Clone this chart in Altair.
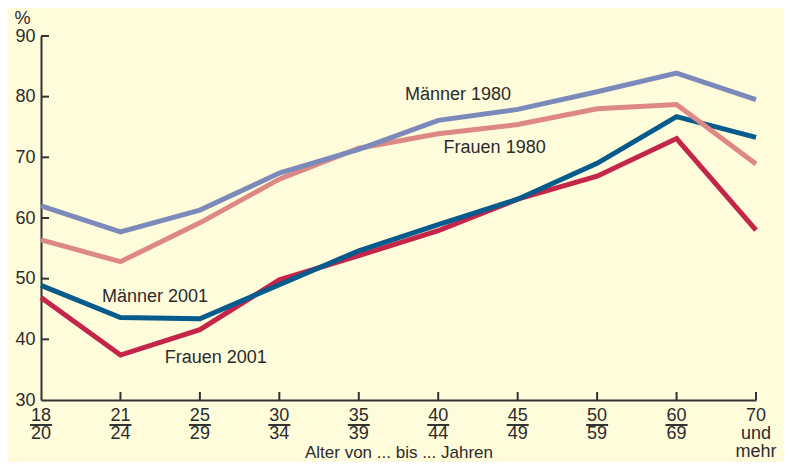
import altair as alt
import pandas as pd

# ---- data ----
age_top = ["18", "21", "25", "30", "35", "40", "45", "50", "60", "70"]
age_bottom = ["20", "24", "29", "34", "39", "44", "49", "59", "69", "und"]
age_extra = ["", "", "", "", "", "", "", "", "", "mehr"]

maenner_1980 = [62.0, 57.7, 61.3, 67.4, 71.3, 76.1, 77.9, 80.8, 83.9, 79.5]
frauen_1980 = [56.4, 52.8, 59.2, 66.4, 71.5, 73.9, 75.4, 78.0, 78.7, 68.9]
maenner_2001 = [48.9, 43.6, 43.4, 49.0, 54.6, 58.9, 63.1, 69.0, 76.7, 73.3]
frauen_2001 = [46.9, 37.4, 41.6, 49.8, 53.8, 57.9, 63.1, 66.9, 73.1, 58.0]

series_names = ["Frauen 2001", "Männer 2001", "Frauen 1980", "Männer 1980"]
series_values = [frauen_2001, maenner_2001, frauen_1980, maenner_1980]
series_colors = ["#c42548", "#045b8c", "#de8886", "#7b8abb"]

label_text = ["Männer 1980", "Frauen 1980", "Männer 2001", "Frauen 2001"]
label_x = [5.25, 5.71, 1.435, 2.20]
label_y = [80.2, 71.5, 47.0, 37.0]

y_labels = [30, 40, 50, 60, 70, 80, 90]
y_ticks = [40, 50, 60, 70, 80, 90]

TXT = "#2b2b2b"
FONT = "Liberation Sans"
FS = 18
W, H = 715, 364

rows = []
for name, vals in zip(series_names, series_values):
    for i, v in enumerate(vals):
        rows.append({"series": name, "idx": i, "value": v})
df = pd.DataFrame(rows)

cats = pd.DataFrame({
    "idx": list(range(len(age_top))),
    "top": age_top,
    "bottom": age_bottom,
    "extra": age_extra,
})
frac = cats[cats["extra"] == ""]

xscale = alt.Scale(domain=[0, 9], nice=False, zero=False)
yscale = alt.Scale(domain=[30, 90], nice=False, zero=False)

base_x = alt.X("idx:Q", scale=xscale,
               axis=alt.Axis(labels=False, ticks=False, grid=False, domain=True,
                             domainColor="#333333", domainWidth=2,
                             title="Alter von ... bis ... Jahren",
                             titleFont=FONT, titleFontSize=17, titleFontWeight="normal",
                             titleColor=TXT, titleY=57, titleBaseline="alphabetic"))
base_y = alt.Y("value:Q", scale=yscale,
               axis=alt.Axis(values=y_labels, ticks=False, grid=False,
                             domainColor="#333333", domainWidth=2,
                             labelFont=FONT, labelFontSize=FS, labelColor=TXT,
                             labelPadding=6,
                             title="%", titleAngle=0, titleFont=FONT, titleFontSize=FS,
                             titleFontWeight="normal", titleColor=TXT,
                             titleX=-19, titleY=-13, titleAlign="center",
                             titleBaseline="alphabetic"))

layers = []
layers.append(
    alt.Chart(df).mark_line(opacity=0).encode(x=base_x, y=base_y)
)

# inward ticks
ytick_df = pd.DataFrame({"value": y_ticks})
layers.append(
    alt.Chart(ytick_df).mark_rule(color="#333333", strokeWidth=2).encode(
        y=alt.Y("value:Q", scale=yscale), x=alt.value(0), x2=alt.value(8))
)
xtick_df = cats[cats["idx"] > 0][["idx"]]
layers.append(
    alt.Chart(xtick_df).mark_rule(color="#333333", strokeWidth=2).encode(
        x=alt.X("idx:Q", scale=xscale), y=alt.value(H), y2=alt.value(H - 8))
)

# lines
for name, col in zip(series_names, series_colors):
    layers.append(
        alt.Chart(df[df["series"] == name]).mark_line(
            color=col, strokeWidth=5, strokeJoin="miter", strokeCap="butt"
        ).encode(x=alt.X("idx:Q", scale=xscale), y=alt.Y("value:Q", scale=yscale))
    )

# line labels
lab_df = pd.DataFrame({"x": label_x, "y": label_y, "t": label_text})
layers.append(
    alt.Chart(lab_df).mark_text(font=FONT, fontSize=FS, color=TXT, baseline="middle").encode(
        x=alt.X("x:Q", scale=xscale), y=alt.Y("y:Q", scale=yscale), text="t:N")
)

# x labels (fractions)
layers.append(
    alt.Chart(cats).mark_text(font=FONT, fontSize=FS, color=TXT, baseline="middle").encode(
        x=alt.X("idx:Q", scale=xscale), y=alt.value(H + 16), text="top:N")
)
layers.append(
    alt.Chart(cats).mark_text(font=FONT, fontSize=FS, color=TXT, baseline="middle").encode(
        x=alt.X("idx:Q", scale=xscale), y=alt.value(H + 34), text="bottom:N")
)
layers.append(
    alt.Chart(cats).mark_text(font=FONT, fontSize=FS, color=TXT, baseline="middle").encode(
        x=alt.X("idx:Q", scale=xscale), y=alt.value(H + 52), text="extra:N")
)
layers.append(
    alt.Chart(frac).mark_tick(orient="horizontal", size=22, thickness=2, color="#333333", opacity=1).encode(
        x=alt.X("idx:Q", scale=xscale), y=alt.value(H + 25))
)

chart = alt.layer(*layers).properties(
    width=W, height=H,
    autosize=alt.AutoSizeParams(type="none"),
    padding={"left": 33, "top": 28, "right": 28, "bottom": 62},
    background="#fffcdc",
).configure_view(stroke=None)

chart.save("out.html", embed_options={"renderer": "svg", "actions": False})
